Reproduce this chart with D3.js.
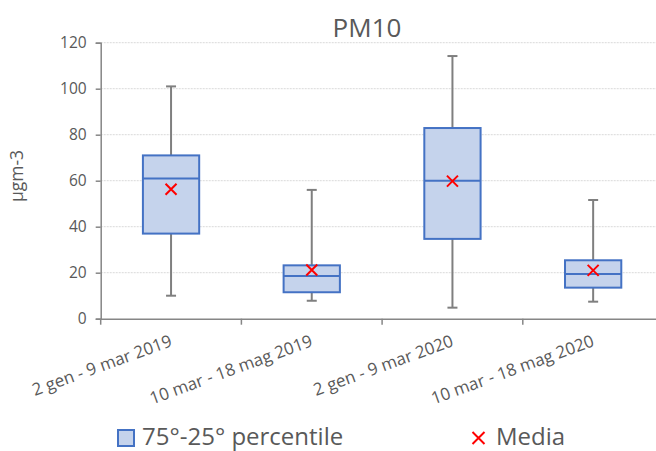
<!DOCTYPE html>
<html><head><meta charset="utf-8">
<script src="https://cdn.jsdelivr.net/npm/d3@7"></script>
<style>body{margin:0;background:#fff}svg{display:block}</style>
</head><body>
<script>
const categories = ["2 gen - 9 mar 2019","10 mar - 18 mag 2019","2 gen - 9 mar 2020","10 mar - 18 mag 2020"];
const whiskerMin = [10, 7.8, 4.8, 7.4];
const q1 = [37, 11.5, 34.7, 13.5];
const median = [61, 18.6, 60, 19.4];
const q3 = [71, 23.2, 82.9, 25.4];
const whiskerMax = [101, 56, 114.2, 51.6];
const mean = [56.3, 21.2, 59.8, 21];
const yTicks = [0,20,40,60,80,100,120];

const W=656,H=451;
const m={left:100.7,right:663.5,top:42.7,bottom:318.7};
const font="'Open Sans', sans-serif";
const txt="#595959";
const svg=d3.select("body").append("svg").attr("width",W).attr("height",H);
const x=d3.scaleBand().domain(categories).range([m.left,m.right]).paddingInner(0.6).paddingOuter(0.3);
const xb=d3.scaleBand().domain(categories).range([m.left,m.right]);
const y=d3.scaleLinear().domain([0,120]).range([m.bottom,m.top]);

// grid
svg.append("g").selectAll("line").data(yTicks.filter(d=>d>0)).join("line")
  .attr("x1",m.left).attr("x2",m.right).attr("y1",d=>y(d)).attr("y2",d=>y(d))
  .attr("stroke","#d9d9d9").attr("stroke-width",1).attr("stroke-dasharray","2,1");

// y axis
const ya=svg.append("g").attr("transform",`translate(${m.left},0)`)
  .call(d3.axisLeft(y).tickValues(yTicks).tickSize(5).tickPadding(9));
ya.select(".domain").attr("stroke","#868686").attr("stroke-width",1.5);
ya.selectAll(".tick line").attr("stroke","#868686").attr("stroke-width",1.5);
ya.selectAll("text").attr("font-family",font).attr("font-size",15.5).attr("fill",txt);

// x axis
const xa=svg.append("g").attr("transform",`translate(0,${m.bottom})`)
  .call(d3.axisBottom(xb).tickSize(0).tickFormat(""));
xa.select(".domain").attr("stroke","#868686").attr("stroke-width",1.5);
const bounds=categories.map(c=>xb(c)).concat([m.right]);
svg.append("g").selectAll("line").data(bounds).join("line")
  .attr("x1",d=>d).attr("x2",d=>d).attr("y1",m.bottom).attr("y2",m.bottom+6)
  .attr("stroke","#868686").attr("stroke-width",1.5);
svg.append("g").selectAll("text").data(categories).join("text")
  .attr("transform",d=>`translate(${xb(d)+xb.bandwidth()/2+2},${m.bottom+27}) rotate(-20)`)
  .attr("text-anchor","end").attr("font-family",font).attr("font-size",17).attr("fill",txt).text(d=>d);

// boxes
const g=svg.append("g");
categories.forEach((c,i)=>{
  const cx=xb(c)+xb.bandwidth()/2, bw=x.bandwidth();
  const cap=5;
  g.append("line").attr("x1",cx).attr("x2",cx).attr("y1",y(whiskerMax[i])).attr("y2",y(q3[i])).attr("stroke","#7f7f7f").attr("stroke-width",2);
  g.append("line").attr("x1",cx).attr("x2",cx).attr("y1",y(q1[i])).attr("y2",y(whiskerMin[i])).attr("stroke","#7f7f7f").attr("stroke-width",2);
  g.append("line").attr("x1",cx-cap).attr("x2",cx+cap).attr("y1",y(whiskerMax[i])).attr("y2",y(whiskerMax[i])).attr("stroke","#7f7f7f").attr("stroke-width",2);
  g.append("line").attr("x1",cx-cap).attr("x2",cx+cap).attr("y1",y(whiskerMin[i])).attr("y2",y(whiskerMin[i])).attr("stroke","#7f7f7f").attr("stroke-width",2);
  g.append("rect").attr("x",cx-bw/2).attr("width",bw).attr("y",y(q3[i])).attr("height",y(q1[i])-y(q3[i]))
    .attr("fill","#c5d3ec").attr("stroke","#4472c4").attr("stroke-width",2);
  g.append("line").attr("x1",cx-bw/2).attr("x2",cx+bw/2).attr("y1",y(median[i])).attr("y2",y(median[i])).attr("stroke","#4472c4").attr("stroke-width",2);
  const s=5.5, my=y(mean[i]);
  g.append("path").attr("d",`M${cx-s},${my-s}L${cx+s},${my+s}M${cx-s},${my+s}L${cx+s},${my-s}`).attr("stroke","#ff0000").attr("stroke-width",2);
});

// title
svg.append("text").attr("x",367).attr("y",37).attr("text-anchor","middle").attr("font-family",font).attr("font-size",26).attr("fill",txt).text("PM10");
// y label
svg.append("text").attr("transform","translate(23,176) rotate(-90)").attr("text-anchor","middle").attr("font-family",font).attr("font-size",17.5).attr("fill",txt).text("µgm-3");

// legend
svg.append("rect").attr("x",118).attr("y",430).attr("width",16).attr("height",16).attr("fill","#c5d3ec").attr("stroke","#4472c4").attr("stroke-width",2);
svg.append("text").attr("x",142).attr("y",445).attr("font-family",font).attr("font-size",24).attr("fill",txt).text("75°-25° percentile");
const lx=478.5, ly=438, s=6;
svg.append("path").attr("d",`M${lx-s},${ly-s}L${lx+s},${ly+s}M${lx-s},${ly+s}L${lx+s},${ly-s}`).attr("stroke","#ff0000").attr("stroke-width",2);
svg.append("text").attr("x",496).attr("y",445).attr("font-family",font).attr("font-size",24).attr("fill",txt).text("Media");
</script>
</body></html>
